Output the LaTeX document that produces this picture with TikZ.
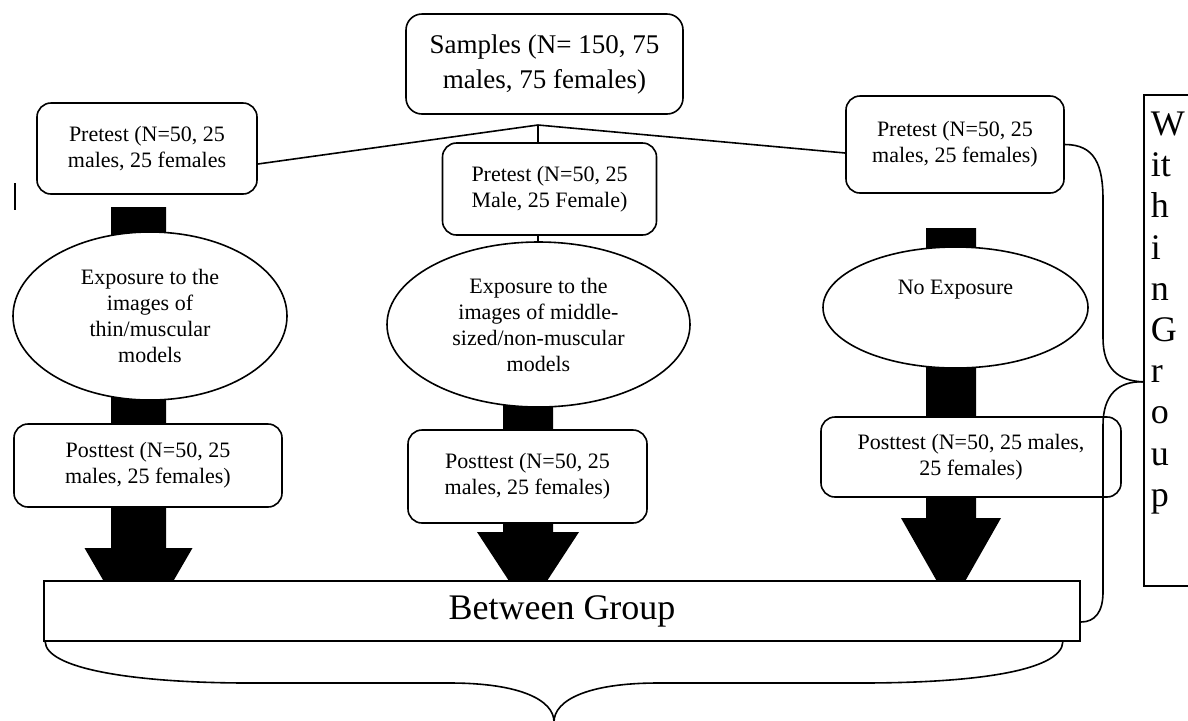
\documentclass[tikz,border=0pt]{standalone}
\usepackage{fontspec}
\setmainfont{Liberation Serif}
\usetikzlibrary{shapes.geometric}
\tikzset{
  testbox/.style={
    rectangle,
    rounded corners=7pt,
    draw=black,
    fill=white,
    line width=0.8pt,
    align=center,
    inner sep=0pt,
    font=\fontsize{11pt}{13pt}\selectfont
  },
  samplebox/.style={testbox, rounded corners=8pt, font=\fontsize{13.5pt}{17.5pt}\selectfont},
  expbubble/.style={testbox, ellipse},
  groupbox/.style={testbox, sharp corners, font=\fontsize{18pt}{20.6pt}\selectfont},
  linkline/.style={draw=black, line width=0.8pt},
  fatarrow/.style={fill=black}
}
\begin{document}
\begin{tikzpicture}[x=0.5pt, y=-0.5pt]
\clip (0,0) rectangle (1188,720);
\fill[white] (0,0) rectangle (1188,720);
\fill[fatarrow] (111,207) -- (166,207) -- (166,548) -- (192.5,548) -- (138.5,641) -- (84.5,548) -- (111,548) -- cycle;
\fill[fatarrow] (503,380) -- (553,380) -- (553,532) -- (579,532) -- (528,610) -- (477,532) -- (503,532) -- cycle;
\fill[fatarrow] (926,228) -- (976,228) -- (976,518) -- (1001,518) -- (951,606) -- (901,518) -- (926,518) -- cycle;
\node[samplebox, minimum width=138.5pt, minimum height=50pt] (samples) at (544.5,64) {Samples (N= 150, 75\\males, 75 females)};
\node[testbox, minimum width=110pt, minimum height=45.5pt] (pre1) at (147,148.5) {Pretest (N=50, 25\\males, 25 females};
\node[testbox, minimum width=107pt, minimum height=46pt] (pre2) at (549.5,189) {Pretest (N=50, 25\\Male, 25 Female)};
\node[testbox, minimum width=109pt, minimum height=48.5pt] (pre3) at (955,144.5) {Pretest (N=50, 25\\males, 25 females)};
\node[expbubble, minimum width=137pt, minimum height=84pt] (exp1) at (150,316) {Exposure to the\\images of\\thin/muscular\\models};
\node[expbubble, minimum width=151.5pt, minimum height=82.5pt] (exp2) at (538.5,324.5) {Exposure to the\\images of middle-\\sized/non-muscular\\models};
\node[expbubble, minimum width=132.5pt, minimum height=60.5pt] (exp3) at (955.5,307.5) {No Exposure\\[7pt]\mbox{}};
\node[testbox, minimum width=134pt, minimum height=41.5pt] (post1) at (148,465.5) {Posttest (N=50, 25\\males, 25 females)};
\node[testbox, minimum width=119.5pt, minimum height=46.5pt] (post2) at (527.5,476.5) {Posttest (N=50, 25\\males, 25 females)};
\node[testbox, minimum width=150pt, minimum height=40pt] (post3) at (971,457) {Posttest (N=50, 25 males,\\25 females)};
\node[groupbox, minimum width=518pt, minimum height=30pt] (between) at (562,611) {Between Group};
\node[groupbox, anchor=north west] (within) at (1143,94) {\parbox[c][245.5pt][t]{45pt}{\raggedright\leftskip=3.5pt\vspace*{8.6pt}W\\it\\h\\i\\n\\G\\r\\o\\u\\p}};
\coordinate (fork) at (538,125);
\coordinate (wtip) at ([yshift=-20.75pt]within.west);
\draw[linkline] (15,183) -- (15,210);
\draw[linkline] (fork) -- ([yshift=-7.75pt]pre1.east);
\draw[linkline] (fork) -- ([yshift=-4.25pt]pre3.west);
\draw[linkline] (fork) -- (fork |- pre2.north);
\draw[linkline] (fork |- pre2.south) -- (fork |- exp2.north);
\draw[linkline] (pre3.east) .. controls (1095,144.5) and (1103,165) .. (1103,200) -- (1103,338) .. controls (1103,368) and (1118,381) .. (wtip);
\draw[linkline] (wtip) .. controls (1118,381) and (1103,395) .. (1103,425) -- (1103,592) .. controls (1103,612) and (1095,622) .. ([yshift=-5.5pt]between.east);
\draw[linkline] ([xshift=1pt]between.south west) .. controls (46,668) and (130,683) .. (250,683) -- (450,683) .. controls (520,683) and (554,700) .. (554,722) .. controls (554,700) and (588,683) .. (658,683) -- (860,683) .. controls (990,683) and (1062,668) .. ([xshift=-9pt]between.south east);
\end{tikzpicture}
\end{document}
